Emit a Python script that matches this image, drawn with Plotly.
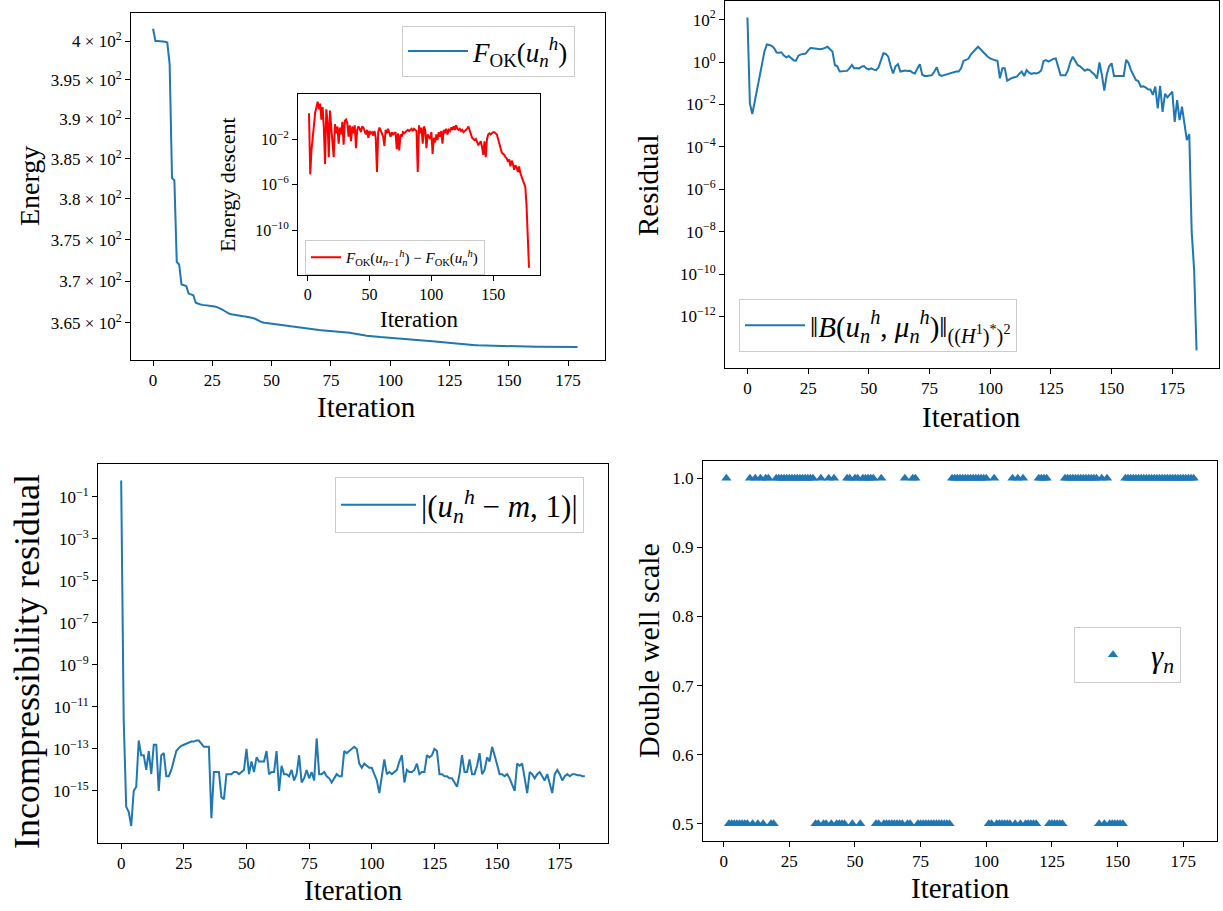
import plotly.graph_objects as go

# ---------------- data ----------------
energy_iter = list(range(0, 180))
energy = [
    401.6, 400.0, 400.0, 399.99, 399.96, 399.9, 399.8, 397.0, 382.6, 382.3,
    372.3, 372.0, 369.6, 369.5, 369.4, 368.5, 368.4, 368.3, 367.4, 367.25,
    367.2, 367.15, 367.12, 367.08, 367.05, 367.0, 366.95, 366.88, 366.78, 366.62,
    366.45, 366.25, 366.12, 366.03, 365.97, 365.92, 365.88, 365.84, 365.8, 365.76,
    365.72, 365.67, 365.6, 365.5, 365.35, 365.2, 365.08, 365.02, 364.98, 364.94,
    364.91, 364.88, 364.85, 364.82, 364.79, 364.76, 364.73, 364.7, 364.66, 364.62,
    364.57, 364.52, 364.47, 364.42, 364.37, 364.32, 364.27, 364.24, 364.21, 364.19,
    364.17, 364.15, 364.13, 364.11, 364.09, 364.07, 364.05, 364.03, 364.01, 363.98,
    363.95, 363.91, 363.87, 363.83, 363.79, 363.76, 363.73, 363.7, 363.63, 363.56,
    363.5, 363.46, 363.43, 363.41, 363.39, 363.36, 363.33, 363.31, 363.29, 363.27,
    363.25, 363.23, 363.21, 363.19, 363.17, 363.15, 363.13, 363.12, 363.11, 363.1,
    363.08, 363.06, 363.03, 363.0, 362.97, 362.94, 362.91, 362.88, 362.85, 362.82,
    362.79, 362.76, 362.73, 362.7, 362.67, 362.64, 362.6, 362.56, 362.53, 362.51,
    362.49, 362.47, 362.45, 362.43, 362.41, 362.4, 362.38, 362.36, 362.35, 362.34,
    362.33, 362.32, 362.31, 362.3, 362.29, 362.28, 362.27, 362.26, 362.25, 362.24,
    362.23, 362.22, 362.21, 362.2, 362.2, 362.2, 362.19, 362.19, 362.19, 362.19,
    362.19, 362.19, 362.18, 362.18, 362.18, 362.18, 362.18, 362.18, 362.18, 362.18,
    362.18, 362.18, 362.18, 362.18, 362.18, 362.17, 362.17, 362.17, 362.17, 362.17,
]

# energy descent F(u_{n-1}) - F(u_n), read on the log axis as powers of ten
descent_iter = list(range(1, 180))
descent_exp = [
    0.25, -5.1, -3.0, -1.5, -0.8, 0.3, 0.8, 1.27, 0.6, 1.1,
    -0.3, 0.8, -1.0, -4.2, 0.6, -0.5, -3.6, 0.5, -1.0, -2.0,
    -3.6, -0.7, -1.5, -0.9, -2.4, -1.0, -1.6, -0.5, -2.5, -0.4,
    -0.3, -0.6, -1.8, -0.8, -2.2, -0.9, -1.5, -0.8, -2.8, -1.2,
    -0.9, -1.1, -1.4, -0.9, -1.0, -1.3, -1.6, -1.2, -1.9, -1.3,
    -1.5, -1.4, -1.7, -1.3, -1.9, -4.9, -1.4, -1.0, -1.2, -1.5,
    -1.8, -2.6, -1.2, -1.5, -1.1, -1.5, -1.8, -1.4, -1.6, -1.5,
    -1.4, -2.9, -1.5, -3.0, -1.6, -1.8, -1.4, -1.5, -1.4, -1.3,
    -1.2, -1.3, -1.2, -1.1, -1.3, -1.1, -1.2, -1.3, -4.9, -0.8,
    -1.5, -1.0, -2.4, -0.9, -1.2, -2.8, -1.6, -1.8, -2.0, -1.4,
    -3.3, -1.9, -2.3, -1.6, -2.1, -1.4, -1.8, -1.3, -2.4, -1.2,
    -1.5, -1.1, -1.6, -1.2, -1.3, -1.0, -1.2, -0.9, -1.2, -0.8,
    -1.1, -1.2, -1.1, -1.3, -1.2, -1.4, -1.3, -1.2, -1.1, -0.9,
    -1.3, -1.7, -1.9, -2.0, -2.1, -2.0, -2.3, -2.5, -2.4, -2.2,
    -2.7, -3.4, -2.2, -3.6, -2.0, -1.6, -1.5, -1.6, -1.5, -1.4,
    -1.4, -1.5, -1.6, -2.0, -2.5, -2.9, -3.2, -3.3, -3.4, -3.6,
    -3.7, -4.0, -3.8, -4.4, -3.9, -4.2, -4.7, -4.3, -4.5, -4.9,
    -4.4, -5.0, -5.3, -5.5, -5.8, -6.2, -7.8, -10.5, -13.3,
]

residual_iter = list(range(0, 186))
residual_exp = [
    2.1, -1.95, -2.45, -1.9, -1.3, -0.7, -0.1, 0.5, 0.83, 0.8,
    0.76, 0.65, 0.45, 0.44, 0.46, 0.3, 0.22, 0.28, 0.2, 0.08,
    0.06, 0.3, 0.36, 0.37, 0.4, 0.55, 0.66, 0.65, 0.63, 0.62,
    0.6, 0.62, 0.68, 0.72, 0.6, 0.5, -0.14, -0.2, -0.45, -0.44,
    -0.44, -0.42, -0.3, -0.14, -0.3, -0.28, -0.3, -0.22, -0.19, -0.3,
    -0.35, -0.3, -0.36, -0.38, -0.25, 0.1, 0.41, 0.38, 0.25, -0.2,
    -0.54, -0.2, -0.1, -0.45, -0.42, -0.4, -0.42, -0.41, -0.5, -0.54,
    -0.3, -0.11, -0.6, -0.66, -0.66, -0.64, -0.62, -0.45, -0.25, -0.6,
    -0.66, -0.62, -0.58, -0.55, -0.5, -0.47, -0.45, -0.45, -0.3, 0.05,
    0.1, 0.15, 0.35, 0.5, 0.6, 0.72, 0.6, 0.45, 0.35, 0.25,
    0.17, 0.12, 0.08, 0.06, -0.77, -0.3, -0.3, -0.88, -0.8, -0.75,
    -0.72, -0.69, -0.55, -0.45, -0.66, -0.38, -0.5, -0.56, -0.52, -0.54,
    -0.5, -0.4, 0.05, 0.09, 0.02, 0.1, 0.15, 0.17, -0.3, -0.62,
    -0.62, -0.62, -0.4, 0.0, 0.25, 0.05, -0.14, -0.2, -0.3, -0.41,
    -0.35, -0.38, -0.5, -0.6, -0.77, -0.02, -0.6, -1.35, -0.6, -0.2,
    -0.06, -0.66, -0.66, -0.65, -0.64, -0.66, 0.1, -0.05, -0.38, -0.6,
    -0.85, -0.9, -1.16, -1.15, -1.2, -1.29, -1.3, -1.55, -1.16, -2.19,
    -1.13, -2.35, -1.5, -1.67, -1.55, -1.4, -2.82, -1.8, -2.74, -2.11,
    -2.9, -3.68, -3.4, -8.0, -9.8, -13.6,
]

incomp_iter = list(range(0, 186))
incomp_exp = [
    -0.22, -11.6, -15.75, -16.0, -16.67, -15.0, -14.8, -12.6, -13.3, -13.3,
    -14.0, -13.1, -14.2, -12.8, -12.8, -15.0, -13.3, -13.2, -14.3, -14.3,
    -14.0, -13.5, -13.1, -12.95, -12.85, -12.8, -12.75, -12.7, -12.65, -12.65,
    -12.6, -12.6, -12.75, -12.9, -12.9, -12.9, -16.3, -14.1, -14.1, -14.1,
    -15.3, -15.4, -14.2, -14.2, -14.2, -14.1, -14.1, -14.2, -14.1, -14.0,
    -13.0, -14.2, -13.6, -14.1, -13.4, -13.6, -13.6, -13.6, -13.1, -14.2,
    -14.1, -14.1, -13.1, -15.0, -13.8, -14.2, -14.2, -14.3, -14.0, -14.5,
    -14.2, -13.3, -14.6, -14.4, -14.0, -14.4, -14.1, -14.5, -12.5, -14.2,
    -14.2, -14.1, -14.3, -14.4, -14.6, -14.4, -14.2, -14.3, -14.3, -13.1,
    -13.2, -13.1, -13.0, -12.9, -13.0, -13.7, -13.9, -13.7, -13.8, -13.9,
    -13.9, -14.2, -14.5, -15.1, -14.3, -13.5, -14.2, -14.1, -14.2, -14.1,
    -14.0, -13.6, -13.3, -14.6, -14.0, -14.1, -14.1, -14.0, -13.7, -14.2,
    -14.1, -14.1, -13.3, -13.4, -13.3, -13.0, -13.1, -14.2, -14.2, -14.3,
    -14.3, -14.4, -14.4, -14.6, -14.8, -14.2, -13.3, -14.1, -14.1, -13.5,
    -14.2, -14.2, -13.8, -13.2, -14.2, -14.0, -13.4, -13.6, -12.9, -13.3,
    -13.8, -14.2, -14.2, -14.3, -14.2, -14.4, -14.7, -15.0, -13.7, -13.8,
    -13.7, -14.4, -15.1, -14.1, -14.2, -14.4, -14.2, -14.1, -14.3, -14.5,
    -14.2, -14.6, -15.1, -14.2, -14.0, -14.2, -14.5, -14.3, -14.2, -14.3,
    -14.2, -14.2, -14.25, -14.25, -14.3, -14.3,
]

gamma_iter = list(range(1, 180))
gamma = [
    1.0, 0.5, 0.5, 0.5, 0.5, 0.5, 0.5, 0.5, 0.5, 1.0,
    0.5, 1.0, 0.5, 1.0, 0.5, 1.0, 1.0, 0.5, 0.5, 1.0,
    1.0, 1.0, 1.0, 1.0, 1.0, 1.0, 1.0, 1.0, 1.0, 1.0,
    1.0, 1.0, 1.0, 1.0, 0.5, 0.5, 1.0, 0.5, 0.5, 1.0,
    0.5, 1.0, 0.5, 0.5, 0.5, 0.5, 1.0, 1.0, 0.5, 1.0,
    1.0, 0.5, 1.0, 1.0, 1.0, 1.0, 1.0, 0.5, 0.5, 1.0,
    0.5, 0.5, 0.5, 0.5, 0.5, 0.5, 0.5, 0.5, 1.0, 0.5,
    0.5, 1.0, 1.0, 0.5, 0.5, 0.5, 0.5, 0.5, 0.5, 0.5,
    0.5, 0.5, 0.5, 0.5, 0.5, 0.5, 1.0, 1.0, 1.0, 1.0,
    1.0, 1.0, 1.0, 1.0, 1.0, 1.0, 1.0, 1.0, 1.0, 1.0,
    0.5, 0.5, 1.0, 0.5, 0.5, 0.5, 0.5, 0.5, 0.5, 1.0,
    0.5, 1.0, 0.5, 1.0, 0.5, 0.5, 0.5, 0.5, 0.5, 1.0,
    1.0, 1.0, 1.0, 0.5, 0.5, 0.5, 0.5, 0.5, 0.5, 1.0,
    1.0, 1.0, 1.0, 1.0, 1.0, 1.0, 1.0, 1.0, 1.0, 1.0,
    1.0, 1.0, 0.5, 1.0, 0.5, 1.0, 0.5, 0.5, 0.5, 0.5,
    0.5, 0.5, 1.0, 1.0, 1.0, 1.0, 1.0, 1.0, 1.0, 1.0,
    1.0, 1.0, 1.0, 1.0, 1.0, 1.0, 1.0, 1.0, 1.0, 1.0,
    1.0, 1.0, 1.0, 1.0, 1.0, 1.0, 1.0, 1.0, 1.0,
]

x_ticks = [0, 25, 50, 75, 100, 125, 150, 175]
inset_x_ticks = [0, 50, 100, 150]
energy_ticks = [365, 370, 375, 380, 385, 390, 395, 400]
energy_ticktext = ["3.65 × 10<sup>2</sup>", "3.7 × 10<sup>2</sup>", "3.75 × 10<sup>2</sup>",
                   "3.8 × 10<sup>2</sup>", "3.85 × 10<sup>2</sup>", "3.9 × 10<sup>2</sup>",
                   "3.95 × 10<sup>2</sup>", "4 × 10<sup>2</sup>"]
residual_tick_exp = [2, 0, -2, -4, -6, -8, -10, -12]
incomp_tick_exp = [-1, -3, -5, -7, -9, -11, -13, -15]
inset_tick_exp = [-2, -6, -10]
gamma_ticks = [0.5, 0.6, 0.7, 0.8, 0.9, 1.0]

descent = [10 ** e for e in descent_exp]
residual = [10 ** e for e in residual_exp]
incomp = [10 ** e for e in incomp_exp]

# ---------------- styling ----------------
BLUE = "#1f77b4"
FONT = "Liberation Serif, Times New Roman, serif"
W, H = 1223, 911


def px(x):
    return x / W


def py(y):
    return 1 - y / H


def pow_label(e):
    s = str(e).replace("-", "−")
    return f"10<sup>{s}</sup>"


def axis(domain, anchor, size=17, **kw):
    d = dict(domain=domain, anchor=anchor, showline=True, linecolor="black", linewidth=1,
             mirror=True, ticks="outside", ticklen=5, tickwidth=1, tickcolor="black",
             showgrid=False, zeroline=False,
             tickfont=dict(family=FONT, size=size, color="black"))
    d.update(kw)
    return d


fig = go.Figure()

fig.add_trace(go.Scatter(
    x=energy_iter, y=energy, mode="lines", line=dict(color=BLUE, width=2),
    name="<i>F</i><sub>OK</sub>(<i>u</i><sub><i>n</i></sub><sup><i>h</i></sup>)",
    xaxis="x", yaxis="y", legend="legend"))

fig.add_trace(go.Scatter(
    x=residual_iter, y=residual, mode="lines", line=dict(color=BLUE, width=2),
    name="‖<i>B</i>(<i>u</i><sub><i>n</i></sub><sup><i>h</i></sup>, <i>μ</i><sub><i>n</i></sub><sup><i>h</i></sup>)‖<sub>((<i>H</i><sup>1</sup>)<sup>*</sup>)<sup>2</sup></sub>",
    xaxis="x2", yaxis="y2", legend="legend2"))

fig.add_trace(go.Scatter(
    x=incomp_iter, y=incomp, mode="lines", line=dict(color=BLUE, width=2),
    name="|(<i>u</i><sub><i>n</i></sub><sup><i>h</i></sup> − <i>m</i>, 1)|",
    xaxis="x3", yaxis="y3", legend="legend3"))

fig.add_trace(go.Scatter(
    x=gamma_iter, y=gamma, mode="markers",
    marker=dict(symbol="triangle-up", size=9, color=BLUE, line=dict(width=0)),
    name="<i>γ</i><sub><i>n</i></sub>",
    xaxis="x4", yaxis="y4", legend="legend4"))

fig.add_trace(go.Scatter(
    x=descent_iter, y=descent, mode="lines", line=dict(color="red", width=2),
    name="<i>F</i><sub>OK</sub>(<i>u</i><sub><i>n</i>−1</sub><sup><i>h</i></sup>) − <i>F</i><sub>OK</sub>(<i>u</i><sub><i>n</i></sub><sup><i>h</i></sup>)",
    xaxis="x5", yaxis="y5", legend="legend5"))

legend_common = dict(bgcolor="rgba(255,255,255,0.8)", bordercolor="#cccccc", borderwidth=1,
                     xanchor="left", yanchor="top", xref="paper", yref="paper")

fig.update_layout(
    width=W, height=H,
    margin=dict(l=0, r=0, t=0, b=0),
    paper_bgcolor="white", plot_bgcolor="white",
    font=dict(family=FONT, color="black"),
    showlegend=True,
    # top-left
    xaxis=axis([px(131), px(605)], "y", range=[-9.3, 190.6], tickvals=x_ticks),
    yaxis=axis([py(360), py(13)], "x", type="log", range=[2.55707, 2.60601],
               tickvals=energy_ticks, ticktext=energy_ticktext),
    # top-right
    xaxis2=axis([px(725), px(1219)], "y2", range=[-9.25, 194.25], tickvals=x_ticks),
    yaxis2=axis([py(368), py(1)], "x2", type="log", range=[-14.43, 2.877],
                tickvals=[10 ** e for e in residual_tick_exp],
                ticktext=[pow_label(e) for e in residual_tick_exp]),
    # bottom-left
    xaxis3=axis([px(98), px(608)], "y3", range=[-9.25, 194.25], tickvals=x_ticks),
    yaxis3=axis([py(843), py(464)], "x3", type="log", range=[-17.48, 0.571],
                tickvals=[10 ** e for e in incomp_tick_exp],
                ticktext=[pow_label(e) for e in incomp_tick_exp]),
    # bottom-right
    xaxis4=axis([px(703), px(1217)], "y4", range=[-7.9, 187.9], tickvals=x_ticks),
    yaxis4=axis([py(841), py(461)], "x4", range=[0.475, 1.025], tickvals=gamma_ticks,
                ticktext=[f"{v:.1f}" for v in gamma_ticks]),
    # inset
    xaxis5=axis([px(298), px(540)], "y5", size=16, range=[-7.9, 187.9], tickvals=inset_x_ticks),
    yaxis5=axis([py(275), py(94)], "x5", size=16, type="log", range=[-13.93, 1.947],
                tickvals=[10 ** e for e in inset_tick_exp],
                ticktext=[pow_label(e) for e in inset_tick_exp]),
    legend=dict(x=px(402), y=py(26), font=dict(family=FONT, size=27), itemwidth=60,
                **legend_common),
    legend2=dict(x=px(739), y=py(299), font=dict(family=FONT, size=29), itemwidth=60,
                 **legend_common),
    legend3=dict(x=px(335), y=py(477), font=dict(family=FONT, size=31), itemwidth=75,
                 **legend_common),
    legend4=dict(x=px(1074), y=py(627), font=dict(family=FONT, size=31), itemwidth=66,
                 **legend_common),
    legend5=dict(x=px(305), y=py(240), font=dict(family=FONT, size=15), **legend_common),
)

titles = [
    ("Energy", 30, 186, -90, 28),
    ("Iteration", 366, 407, 0, 29),
    ("Residual", 648, 185, -90, 29),
    ("Iteration", 971, 417, 0, 29),
    ("Incompressibility residual", 27, 662, -90, 36),
    ("Iteration", 353, 890, 0, 29),
    ("Double well scale", 648, 651, -90, 30),
    ("Iteration", 960, 888, 0, 29),
    ("Energy descent", 228, 185, -90, 22),
    ("Iteration", 419, 319, 0, 23),
]
for text, x, y, ang, size in titles:
    fig.add_annotation(text=text, x=px(x), y=py(y), xref="paper", yref="paper",
                       showarrow=False, textangle=ang, xanchor="center", yanchor="middle",
                       font=dict(family=FONT, size=size, color="black"))

fig.write_html("out.html")
